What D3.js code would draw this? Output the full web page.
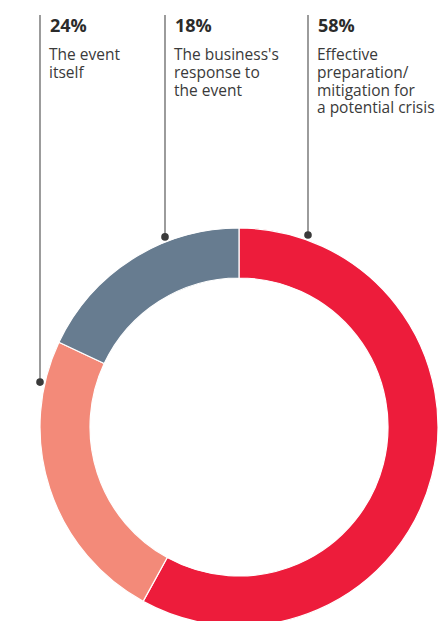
<!DOCTYPE html>
<html><head><meta charset="utf-8">
<script src="https://cdn.jsdelivr.net/npm/d3@7"></script>
<style>html,body{margin:0;padding:0;background:#fff;}svg{display:block;}</style>
</head><body>
<script>
const categories = ["Effective preparation/mitigation for a potential crisis", "The event itself", "The business's response to the event"];
const values = [58, 24, 18];
const pctLabels = ["58%", "24%", "18%"];
const labelLines = [["Effective", "preparation/", "mitigation for", "a potential crisis"], ["The event", "itself"], ["The business's", "response to", "the event"]];
const colors = ["#ED1C3B", "#F38A79", "#677C90"];

const W = 443, H = 621;
const cx = 239, cy = 427, R = 199, r = 149;
const lineX = [308, 40, 165];

const svg = d3.select("body").append("svg").attr("width", W).attr("height", H);
const pie = d3.pie().sort(null).value(d => d)(values);
const arc = d3.arc().innerRadius(r).outerRadius(R);
const g = svg.append("g").attr("transform", `translate(${cx},${cy})`);
g.selectAll("path").data(pie).join("path")
  .attr("d", arc).attr("fill", (d, i) => colors[i])
  .attr("stroke", "#fff").attr("stroke-width", 1.2);

const dotR = 204;
categories.forEach((c, i) => {
  const x = lineX[i];
  const dx = x - cx;
  const y = cy - Math.sqrt(dotR * dotR - dx * dx);
  svg.append("line").attr("x1", x).attr("x2", x).attr("y1", 15).attr("y2", y)
    .attr("stroke", "#666").attr("stroke-width", 1.3);
  svg.append("circle").attr("cx", x).attr("cy", y).attr("r", 3.8).attr("fill", "#3a3a3a");
  svg.append("text").attr("x", x + 10).attr("y", 32)
    .attr("font-family", "Open Sans, sans-serif").attr("font-weight", "bold")
    .attr("font-size", 18).attr("fill", "#2b2b2b").text(pctLabels[i]);
  const t = svg.append("text").attr("font-family", "Open Sans, sans-serif")
    .attr("font-size", 15.5).attr("fill", "#3a3a3a");
  labelLines[i].forEach((ln, j) => {
    t.append("tspan").attr("x", x + 9).attr("y", 60 + j * 17.8).text(ln);
  });
});
</script>
</body></html>
